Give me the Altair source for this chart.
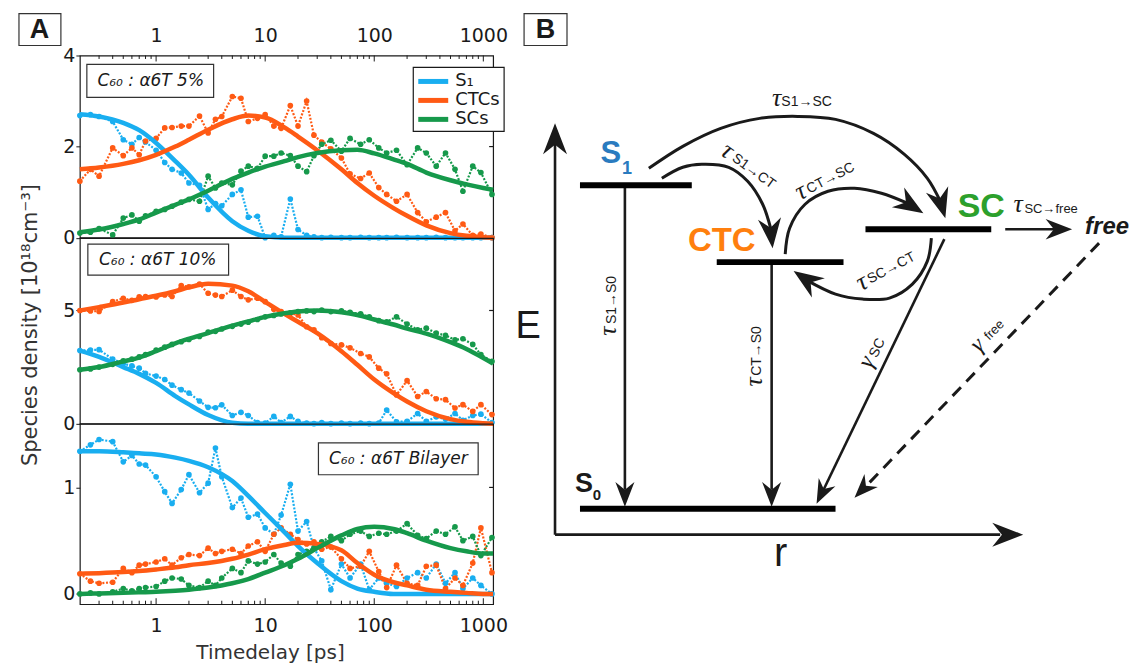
import altair as alt
import pandas as pd

FONT_A = "DejaVu Sans"
FONT_B = "Liberation Sans"
FONT_G = "Liberation Serif"
BLUE, ORANGE, GREEN = "#19aef0", "#ff5a14", "#16994b"
C_S1, C_CTC, C_SC = "#2a7bbf", "#ff7f0e", "#2ca02c"
INK = "#1a1a1a"
SPECIES = ["S1", "CTC", "SC"]

# ---------------- Panel A data ----------------
T_FIT = [0.2, 0.3, 0.5, 0.7, 1, 1.5, 2, 3, 5, 7, 10, 15, 20, 30, 50, 70, 100, 150, 200, 300, 500, 700, 1000, 1230]
T_DATA = [0.2, 0.25, 0.3, 0.4, 0.5, 0.6, 0.7, 0.8, 1.0, 1.2, 1.4, 1.7, 2.0, 2.5, 3.0, 3.5, 4.0, 5.0, 6.0, 7.0, 8.5,
          10, 12, 14, 17, 20, 24, 28, 33, 40, 50, 60, 75, 90, 110, 130, 160, 200, 250, 300, 370, 450, 550, 650,
          800, 950, 1200]

# C60 : a6T 5 %
S1_5_FIT = [2.71, 2.66, 2.52, 2.36, 2.08, 1.68, 1.38, 0.88, 0.36, 0.15, 0.03, 0, 0, 0, 0, 0, 0, 0, 0, 0, 0, 0, 0, 0]
CTC_5_FIT = [1.50, 1.54, 1.62, 1.70, 1.82, 2.00, 2.15, 2.37, 2.60, 2.68, 2.64, 2.42, 2.22, 1.92, 1.50, 1.20, 0.92,
             0.65, 0.48, 0.27, 0.10, 0.04, 0.01, 0.0]
SC_5_FIT = [0.12, 0.18, 0.30, 0.40, 0.55, 0.72, 0.84, 1.03, 1.29, 1.43, 1.56, 1.68, 1.77, 1.86, 1.92, 1.93, 1.85,
            1.72, 1.62, 1.43, 1.26, 1.17, 1.09, 1.05]
S1_5 = [2.68, 2.70, 2.66, 2.55, 2.15, 2.05, 2.20, 2.10, 1.92, 1.65, 1.50, 1.42, 1.20, 1.15, 0.62, 0.75, 0.70, 0.95,
        1.05, 0.45, 0.47, 0.00, 0.05, 0.02, 0.85, 0.18, 0.05, 0.02, 0.00, 0.01, 0.00, 0.00, 0.01, 0.00, 0.00, 0.00,
        0.01, 0.00, 0.00, 0.00, 0.01, 0.00, 0.00, 0.00, 0.00, 0.00, 0.00]
CTC_5 = [1.24, 1.50, 1.35, 1.97, 1.80, 1.97, 1.82, 2.12, 2.18, 2.41, 2.42, 2.45, 2.45, 2.67, 2.30, 2.60, 2.66, 3.10,
         3.06, 2.55, 2.62, 2.70, 2.45, 2.40, 2.90, 2.45, 3.00, 2.25, 2.10, 1.95, 1.75, 1.40, 1.30, 1.42, 1.10, 0.95,
         0.80, 0.95, 0.55, 0.35, 0.45, 0.55, 0.15, 0.30, 0.05, 0.08, 0.00]
SC_5 = [0.10, 0.12, 0.20, 0.06, 0.43, 0.50, 0.36, 0.48, 0.58, 0.62, 0.69, 0.78, 0.84, 0.80, 1.35, 1.09, 1.20, 1.16,
        1.46, 1.57, 1.52, 1.79, 1.79, 1.86, 1.80, 1.57, 1.45, 1.80, 2.05, 2.14, 1.90, 2.18, 2.05, 2.15, 1.97, 1.86,
        1.92, 1.60, 1.97, 1.86, 1.57, 1.86, 1.50, 1.02, 1.57, 1.43, 0.95]

# C60 : a6T 10 %
S1_10_FIT = [3.23, 2.95, 2.50, 2.20, 1.80, 1.22, 0.85, 0.38, 0.04, 0, 0, 0, 0, 0, 0, 0, 0, 0, 0, 0, 0, 0, 0, 0]
CTC_10_FIT = [5.0, 5.15, 5.35, 5.5, 5.65, 5.85, 6.02, 6.18, 6.10, 5.85, 5.38, 4.85, 4.5, 4.0, 3.2, 2.6, 1.95, 1.35,
              0.98, 0.55, 0.2, 0.08, 0.02, 0.0]
SC_10_FIT = [2.38, 2.5, 2.75, 2.92, 3.2, 3.55, 3.75, 4.0, 4.33, 4.52, 4.72, 4.88, 4.96, 5.0, 4.92, 4.8, 4.6, 4.38,
             4.2, 3.98, 3.6, 3.3, 2.9, 2.65]
S1_10 = [3.23, 3.25, 3.27, 2.85, 2.65, 2.55, 2.45, 2.22, 2.10, 1.95, 1.70, 1.50, 1.35, 1.00, 0.72, 0.70, 0.83, 0.36,
         0.50, 0.36, 0.05, 0.02, 0.32, 0.05, 0.32, 0.10, 0.02, 0.00, 0.05, 0.00, 0.02, 0.00, 0.03, 0.00, 0.02, 0.60,
         0.08, 0.10, 0.45, 0.10, 0.30, 0.20, 0.45, 0.15, 0.36, 0.42, 0.05]
CTC_10 = [5.00, 4.98, 4.96, 5.39, 5.54, 5.45, 5.60, 5.62, 5.60, 5.69, 5.62, 6.10, 6.05, 6.17, 5.76, 5.68, 5.62, 5.90,
          5.62, 5.47, 5.54, 5.39, 5.05, 4.95, 4.87, 4.80, 4.28, 4.15, 3.80, 3.54, 3.48, 3.35, 3.10, 2.95, 2.45, 2.20,
          1.27, 1.90, 1.20, 1.42, 1.10, 1.06, 0.69, 0.84, 0.54, 0.84, 0.40]
SC_10 = [2.38, 2.42, 2.50, 2.62, 2.78, 2.85, 2.95, 3.05, 3.25, 3.38, 3.50, 3.62, 3.72, 3.85, 4.05, 4.08, 4.18, 4.30,
         4.40, 4.48, 4.60, 4.72, 4.78, 4.85, 4.90, 4.95, 4.98, 4.95, 5.02, 4.95, 4.98, 4.92, 4.85, 4.72, 4.55, 4.50,
         4.72, 4.40, 4.15, 4.22, 4.00, 3.90, 3.70, 3.75, 3.50, 3.05, 2.75]

# C60 : a6T bilayer
S1_BI_FIT = [1.34, 1.34, 1.33, 1.32, 1.31, 1.28, 1.25, 1.19, 1.06, 0.92, 0.76, 0.58, 0.45, 0.29, 0.12, 0.05, 0.02,
             0, 0, 0, 0, 0, 0, 0]
CTC_BI_FIT = [0.19, 0.195, 0.205, 0.215, 0.23, 0.25, 0.27, 0.29, 0.33, 0.37, 0.42, 0.46, 0.48, 0.47, 0.41, 0.29,
              0.18, 0.11, 0.08, 0.04, 0.02, 0.01, 0.0, 0.0]
SC_BI_FIT = [0.0, 0.005, 0.01, 0.015, 0.02, 0.03, 0.04, 0.06, 0.10, 0.14, 0.20, 0.27, 0.33, 0.43, 0.55, 0.61, 0.63,
             0.61, 0.57, 0.50, 0.43, 0.40, 0.38, 0.38]
S1_BI = [1.34, 1.40, 1.45, 1.43, 1.24, 1.30, 1.22, 1.21, 1.10, 0.96, 0.85, 0.98, 1.12, 0.95, 1.04, 1.37, 1.10, 0.81,
         0.90, 0.72, 0.75, 0.62, 0.56, 0.74, 1.03, 0.59, 0.68, 0.43, 0.31, 0.04, 0.28, 0.15, 0.28, 0.04, 0.15, 0.10,
         0.07, 0.15, 0.20, 0.15, 0.28, 0.10, 0.20, 0.05, 0.15, 0.08, 0.00]
CTC_BI = [0.19, 0.12, 0.10, 0.11, 0.24, 0.20, 0.27, 0.28, 0.30, 0.33, 0.27, 0.34, 0.37, 0.36, 0.43, 0.38, 0.40, 0.42,
          0.38, 0.45, 0.49, 0.40, 0.56, 0.62, 0.56, 0.51, 0.47, 0.49, 0.42, 0.44, 0.33, 0.24, 0.26, 0.40, 0.21, 0.06,
          0.27, 0.10, 0.08, 0.26, 0.27, 0.05, 0.15, 0.08, 0.29, 0.62, 0.20]
SC_BI = [0.00, 0.01, 0.00, 0.02, 0.05, 0.03, 0.05, 0.06, 0.07, 0.12, 0.15, 0.14, 0.08, 0.06, 0.12, 0.08, 0.15, 0.24,
         0.20, 0.31, 0.28, 0.30, 0.37, 0.29, 0.26, 0.37, 0.40, 0.43, 0.49, 0.54, 0.50, 0.56, 0.59, 0.54, 0.57, 0.56,
         0.59, 0.66, 0.55, 0.52, 0.59, 0.56, 0.63, 0.50, 0.54, 0.36, 0.53]

X_LABELS = [1, 10, 100, 1000]
X_MINOR = [0.3, 0.4, 0.5, 0.6, 0.7, 0.8, 0.9, 2, 3, 4, 5, 6, 7, 8, 9, 20, 30, 40, 50, 60, 70, 80, 90,
           200, 300, 400, 500, 600, 700, 800, 900]
X_DOMAIN = [0.2, 1230]

W = 414
H_TOP, H_MID, H_BOT = 182.5, 185.8, 180.7

# ---------------- Panel B geometry & annotations (canvas pixels) ----------------
CANVAS = dict(x1=[0], x2=[1134], y1=[0], y2=[664])

LEVEL_X1 = [580, 717, 866, 580]
LEVEL_X2 = [692, 844, 992, 836]
LEVEL_Y = [184, 261, 228, 508]

SEG_X1 = [555, 555, 625, 772, 945, 1006]
SEG_Y1 = [534, 534, 184, 261, 238, 228]
SEG_X2 = [555, 1001, 625, 772, 824, 1055]
SEG_Y2 = [142, 534, 489, 489, 489, 228]
DASH_X1, DASH_Y1, DASH_X2, DASH_Y2 = [1100], [242], [866], [486]

CURVES = {
    "s1_sc": ([649, 683, 721, 760, 798, 836, 874, 905, 928, 941],
              [167, 145, 127, 117, 115, 118, 132, 153, 177, 200]),
    "s1_ct": ([662, 683, 702, 729, 748, 763, 771],
              [177, 166, 163, 166, 180, 203, 227]),
    "ct_sc": ([785.6, 790, 805.5, 828.5, 855, 882, 908],
              [253, 227, 203, 190, 187, 192, 202]),
    "sc_ct": ([932, 928, 913, 890, 863, 836, 807],
              [237, 260, 283, 297, 298, 293, 279]),
}

ARROW_PATH = "M0,0L-0.62,1.6L0,1.1L0.62,1.6Z"
AH_X = [555, 1024, 625, 772, 817, 855, 1073, 946, 773, 924, 794]
AH_Y = [122, 534, 506, 506, 503, 497, 228, 217, 247, 212, 270]
AH_ANGLE = [0, 90, 180, 180, 206, 224, 90, 164, 174, 122, 304]
AH_SIZE = [1500, 1500, 950, 950, 900, 900, 1100, 1400, 1400, 1400, 1400]

BOX_X1 = [18, 524, 86, 87, 318]
BOX_X2 = [60, 567, 213, 228, 478]
BOX_Y1 = [12, 12, 63, 243, 442]
BOX_Y2 = [44, 44, 96, 274, 474]
LEG_BOX = dict(x1=[413], x2=[504], y1=[66], y2=[130])
LEG_LABELS = ["S\u2081", "CTCs", "SCs"]
LEG_Y = [80, 99, 118]
LEG_COLORS = [BLUE, ORANGE, GREEN]

# greek rate symbols (tau / gamma)
GK_TXT = ["\u03c4", "\u03c4", "\u03c4", "\u03c4", "\u03c4", "\u03c4", "\u03c4", "\u03b3", "\u03b3"]
GK_X = [777, 728, 801, 862, 1019, 608, 754, 867, 978]
GK_Y = [97, 149, 190, 281, 203, 330, 381, 361, 344]
GK_SIZE = [26, 26, 26, 26, 26, 26, 26, 24, 24]
GK_ANGLE = [0, 36, 333, 332, 0, 270, 270, 296, 315]

# subscripts and axis letters
RT_TXT = ["E", "r", "S1\u2192SC", "S1\u2192CT", "CT\u2192SC", "SC\u2192CT", "SC\u2192free", "S1\u2192S0",
          "CT\u2192S0", "SC", "free"]
RT_X = [528, 781, 807, 754, 831, 892, 1052, 612, 757, 878, 995]
RT_Y = [326, 553, 101, 170, 177, 267, 208, 299, 350, 347, 329]
RT_SIZE = [38, 40, 14, 14, 14, 14, 13, 14, 14, 14, 13]
RT_ANGLE = [0, 0, 0, 36, 333, 332, 0, 270, 270, 296, 315]

BT_TXT = ["A", "B", "S", "1", "CTC", "SC", "S", "0"]
BT_X = [38.5, 545.5, 611, 627, 722, 982, 584, 597]
BT_Y = [28, 28, 153, 168, 240, 206, 483, 494]
BT_SIZE = [27, 27, 31, 18, 33, 34, 27, 15]
BT_COLOR = [INK, INK, C_S1, C_S1, C_CTC, C_SC, INK, INK]

A_TXT = ["Species density [10\u00b9\u2078cm\u207b\u00b3]", "Timedelay [ps]"]
A_X = [30, 270]
A_Y = [324, 653]
A_SIZE = [21, 20]
A_ANGLE = [270, 0]

BOXTXT = ["C\u2086\u2080 : \u03b16T 5%", "C\u2086\u2080 : \u03b16T 10%", "C\u2086\u2080 : \u03b16T Bilayer"]
BOXTXT_X = [150, 157, 398]
BOXTXT_Y = [80, 258.5, 458]

# ---------------- helpers ----------------
def long_df(t, series):
    rows = []
    for name, vals in zip(SPECIES, series):
        for ti, vi in zip(t, vals):
            rows.append({"t": ti, "v": vi, "s": name})
    return pd.DataFrame(rows)


COLOR = alt.Color("s:N", scale=alt.Scale(domain=SPECIES, range=[BLUE, ORANGE, GREEN]), legend=None)


def data_panel(fits, datas, ydom, yvals, rticks, height, xaxis, tick_side):
    xs = alt.Scale(type="log", domain=X_DOMAIN, nice=False)
    ys = alt.Scale(domain=ydom, nice=False, zero=False)
    x = alt.X("t:Q", scale=xs, axis=xaxis)
    y = alt.Y("v:Q", scale=ys, axis=alt.Axis(values=yvals, title=None, grid=False, domain=False, tickSize=4,
                                              labelPadding=1, labelFontSize=19, labelFont=FONT_A,
                                              labelColor=INK, tickColor=INK))
    fdf = long_df(T_FIT, fits)
    ddf = long_df(T_DATA, datas)
    layers = [
        alt.Chart(ddf).mark_line(strokeWidth=2.2, strokeDash=[2, 1.6]).encode(x=x, y=y, color=COLOR),
        alt.Chart(ddf).mark_circle(size=32, opacity=1).encode(x=x, y=y, color=COLOR),
        alt.Chart(fdf).mark_line(strokeWidth=4.5, interpolate="monotone").encode(x=x, y=y, color=COLOR),
        alt.Chart(pd.DataFrame({"v": rticks})).mark_rule(color=INK, strokeWidth=1.2)
        .encode(y=y, x=alt.value(W - 4), x2=alt.value(W)),
    ]
    if tick_side is not None:
        for vals, ln in ((X_LABELS, 6), (X_MINOR, 3.5)):
            if tick_side == "top":
                a, b = 0, ln
            else:
                a, b = height - ln, height
            layers.append(alt.Chart(pd.DataFrame({"t": vals})).mark_rule(color=INK, strokeWidth=1)
                          .encode(x=x, y=alt.value(a), y2=alt.value(b)))
    return alt.layer(*layers)


def x_axis(orient, pad):
    return alt.Axis(orient=orient, values=X_LABELS, format="d", title=None, ticks=False, domain=False, grid=False,
                    labelFontSize=19, labelPadding=pad, labelFont=FONT_A, labelColor=INK, labelFlush=False)


# pixel scales living in the top panel
PX = alt.Scale(domain=[79, 79 + W], nice=False, zero=False)
PY = alt.Scale(domain=[54, 54 + H_TOP], nice=False, zero=False, reverse=True)


def PXe(f):
    return alt.X(f, type="quantitative", scale=PX, axis=None)


def PYe(f):
    return alt.Y(f, type="quantitative", scale=PY, axis=None)


def text_layer(txt, xs, ys, sizes, angles, color, font, weight="normal", style="normal", align="center"):
    df = pd.DataFrame({"txt": txt, "x": xs, "y": ys, "fs": sizes, "a": angles})
    return alt.Chart(df).mark_text(font=font, fontWeight=weight, fontStyle=style, align=align,
                                   baseline="middle", color=color).encode(
        x=PXe("x"), y=PYe("y"), text="txt:N", size=alt.Size("fs:Q", scale=None, legend=None),
        angle=alt.Angle("a:Q", scale=None, legend=None))


def rect_layer(d, **kw):
    return alt.Chart(pd.DataFrame(d)).mark_rect(**kw).encode(
        x=PXe("x1"), x2=alt.X2("x2"), y=PYe("y1"), y2=alt.Y2("y2"))


def seg_layer(x1, y1, x2, y2, **kw):
    df = pd.DataFrame({"x1": x1, "y1": y1, "x2": x2, "y2": y2})
    return alt.Chart(df).mark_rule(**kw).encode(x=PXe("x1"), y=PYe("y1"), x2=alt.X2("x2"), y2=alt.Y2("y2"))


curve_rows = []
for cid, (cx, cy) in CURVES.items():
    for i, (a, b) in enumerate(zip(cx, cy)):
        curve_rows.append({"id": cid, "i": i, "x": a, "y": b})
curve_df = pd.DataFrame(curve_rows)

legend_lines = [seg_layer([418], [yy], [448], [yy], color=cc, strokeWidth=5) for yy, cc in zip(LEG_Y, LEG_COLORS)]

bold_layers = []
for col in [INK, C_S1, C_CTC, C_SC]:
    idx = [i for i, c in enumerate(BT_COLOR) if c == col]
    bold_layers.append(text_layer([BT_TXT[i] for i in idx], [BT_X[i] for i in idx], [BT_Y[i] for i in idx],
                                  [BT_SIZE[i] for i in idx], [0] * len(idx), col, FONT_B, weight="bold"))

pixel = alt.layer(
    rect_layer(CANVAS, opacity=0),
    rect_layer(dict(x1=BOX_X1, x2=BOX_X2, y1=BOX_Y1, y2=BOX_Y2), fill="white", stroke="#333", strokeWidth=1.2),
    rect_layer(LEG_BOX, fill="white", stroke=INK, strokeWidth=1.2),
    *legend_lines,
    text_layer(LEG_LABELS, [455] * 3, LEG_Y, [18] * 3, [0] * 3, INK, FONT_A, align="left"),
    text_layer(BOXTXT, BOXTXT_X, BOXTXT_Y, [17] * 3, [0] * 3, INK, FONT_A, style="italic"),
    text_layer(A_TXT, A_X, A_Y, A_SIZE, A_ANGLE, "#333", FONT_A),
    text_layer(RT_TXT, RT_X, RT_Y, RT_SIZE, RT_ANGLE, INK, FONT_B),
    text_layer(GK_TXT, GK_X, GK_Y, GK_SIZE, GK_ANGLE, INK, FONT_G, style="italic"),
    *bold_layers,
    text_layer(["free"], [1108], [226], [24], [0], INK, FONT_B, weight="bold", style="italic"),
    seg_layer(SEG_X1, SEG_Y1, SEG_X2, SEG_Y2, color=INK, strokeWidth=2.6),
    seg_layer(DASH_X1, DASH_Y1, DASH_X2, DASH_Y2, color=INK, strokeWidth=3, strokeDash=[12, 8]),
    alt.Chart(curve_df).mark_line(color=INK, strokeWidth=3, interpolate="catmull-rom").encode(
        x=PXe("x"), y=PYe("y"), detail="id:N", order="i:Q"),
    alt.Chart(pd.DataFrame({"x": AH_X, "y": AH_Y, "a": AH_ANGLE, "s": AH_SIZE}))
    .mark_point(shape=ARROW_PATH, filled=True, color=INK, opacity=1, strokeWidth=0).encode(
        x=PXe("x"), y=PYe("y"), size=alt.Size("s:Q", scale=None, legend=None),
        angle=alt.Angle("a:Q", scale=None, legend=None)),
    seg_layer(LEVEL_X1, LEVEL_Y, LEVEL_X2, LEVEL_Y, color="black", strokeWidth=6),
)

top_data = data_panel([S1_5_FIT, CTC_5_FIT, SC_5_FIT], [S1_5, CTC_5, SC_5], [0, 4], [0, 2, 4], [2], H_TOP,
                      x_axis("top", 10), "top")
top = alt.layer(top_data, pixel).resolve_scale(
    x="independent", y="independent").properties(width=W, height=H_TOP)

mid = data_panel([S1_10_FIT, CTC_10_FIT, SC_10_FIT], [S1_10, CTC_10, SC_10], [0, 8.196], [0, 5], [5], H_MID,
                 None, None).properties(width=W, height=H_MID)

bot = data_panel([S1_BI_FIT, CTC_BI_FIT, SC_BI_FIT], [S1_BI, CTC_BI, SC_BI], [-0.0965, 1.597], [0, 1], [1],
                 H_BOT, x_axis("bottom", 12), "bottom").properties(width=W, height=H_BOT)

chart = alt.vconcat(top, mid, bot, spacing=0, bounds="flush").properties(
    padding=0, background="white"
).configure_view(stroke=INK, strokeWidth=1.2).configure_legend(disable=True)

chart.save("out.html", embed_options={"renderer": "svg", "actions": False})
